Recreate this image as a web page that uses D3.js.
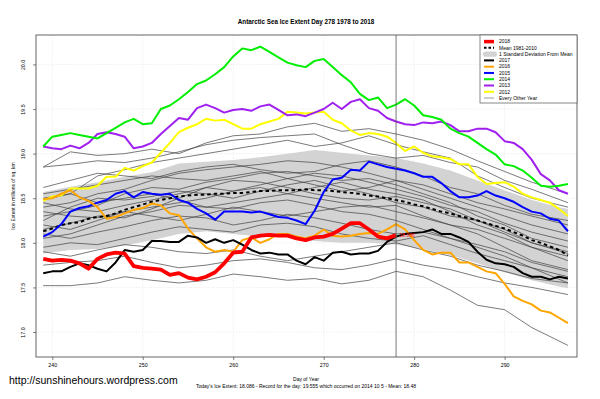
<!DOCTYPE html>
<html>
<head>
<meta charset="utf-8">
<title>Antarctic Sea Ice Extent Day 278</title>
<style>
  body { margin: 0; background: #fff; }
  svg { display: block; font-family: "Liberation Sans", Arial, sans-serif; }
  .axis text { font-size: 5.3px; fill: #000; }
  .axis line { stroke: #333; stroke-width: 0.6; }
</style>
</head>
<body>
<script src="https://cdn.jsdelivr.net/npm/d3@7"></script>
<script>
// day of year, daily values
var days = d3.range(239, 298);

var red2018 = [17.82, 17.80, 17.81, 17.80, 17.77, 17.71, 17.82, 17.87, 17.89, 17.88,
  17.74, 17.72, 17.71, 17.70, 17.64, 17.66, 17.61, 17.59, 17.62, 17.67,
  17.77, 17.89, 17.90, 18.06, 18.08, 18.09, 18.08, 18.08, 18.05,
  18.03, 18.06, 18.07, 18.10, 18.16, 18.22, 18.22, 18.15, 18.07, 18.05, 18.086];

var mean8110 = [18.13, 18.16, 18.20, 18.22, 18.23, 18.27, 18.29, 18.30, 18.33, 18.37,
  18.40, 18.43, 18.46, 18.48, 18.50, 18.52, 18.53, 18.54, 18.54, 18.55,
  18.55, 18.56, 18.56, 18.57, 18.58, 18.58, 18.59, 18.59, 18.59,
  18.60, 18.59, 18.59, 18.58, 18.57, 18.56, 18.55, 18.53, 18.52, 18.50,
  18.48, 18.46, 18.43, 18.41, 18.38, 18.35, 18.33, 18.30, 18.28, 18.25,
  18.22, 18.19, 18.16, 18.12, 18.08, 18.03, 18.00, 17.96, 17.92, 17.86];

var black2017 = [17.66, 17.68, 17.68, 17.73, 17.77, 17.75, 17.71, 17.68, 17.78, 17.92,
  17.90, 17.92, 18.02, 18.02, 18.01, 18.01, 18.08, 18.06, 18.00, 18.04,
  18.00, 18.03, 17.98, 17.92, 17.88, 17.89, 17.87, 17.87, 17.80,
  17.76, 17.84, 17.80, 17.89, 17.90, 17.87, 17.88, 17.88, 17.91, 18.01,
  18.07, 18.10, 18.11, 18.12, 18.15, 18.10, 18.10, 18.06, 18.01, 17.90,
  17.81, 17.77, 17.76, 17.73, 17.66, 17.62, 17.62, 17.59, 17.62, 17.60];

var orange2016 = [18.49, 18.50, 18.55, 18.59, 18.51, 18.47, 18.40, 18.27, 18.29, 18.33,
  18.37, 18.39, 18.44, 18.42, 18.33, 18.31, 18.16, 18.05, 17.95, 17.90,
  17.92, 17.90, 18.03, 18.06, 18.00, 18.04, 18.10, 18.10, 18.07,
  18.05, 18.08, 18.15, 18.08, 18.07, 18.08, 18.10, 18.11, 18.10, 18.15,
  18.21, 18.15, 18.03, 17.92, 17.87, 17.89, 17.89, 17.78, 17.78, 17.73,
  17.68, 17.66, 17.54, 17.40, 17.35, 17.31, 17.24, 17.22, 17.16, 17.10];

var blue2015 = [18.07, 18.12, 18.21, 18.35, 18.39, 18.41, 18.45, 18.48, 18.55, 18.58,
  18.51, 18.57, 18.55, 18.54, 18.55, 18.48, 18.45, 18.38, 18.33, 18.26,
  18.35, 18.35, 18.35, 18.34, 18.35, 18.32, 18.29, 18.28, 18.25, 18.21,
  18.36, 18.57, 18.71, 18.73, 18.82, 18.81, 18.91, 18.88, 18.85, 18.83,
  18.81, 18.78, 18.74, 18.74, 18.67, 18.58, 18.51, 18.51, 18.53, 18.58,
  18.53, 18.50, 18.46, 18.40, 18.35, 18.33, 18.27, 18.25, 18.13];

var green2014 = [19.08, 19.19, 19.21, 19.23, 19.21, 19.19, 19.17, 19.23, 19.29, 19.35,
  19.39, 19.33, 19.34, 19.50, 19.54, 19.61, 19.69, 19.78, 19.82, 19.89,
  19.97, 20.09, 20.18, 20.16, 20.20, 20.14, 20.08, 20.02, 19.99,
  19.97, 20.04, 20.06, 19.97, 19.88, 19.80, 19.67, 19.60, 19.63, 19.51,
  19.55, 19.61, 19.54, 19.43, 19.41, 19.38, 19.28, 19.23, 19.19, 19.12,
  19.05, 18.99, 18.88, 18.86, 18.81, 18.73, 18.64, 18.63, 18.64, 18.66];

var purple2013 = [19.08, 19.06, 19.05, 19.09, 19.06, 19.12, 19.22, 19.24, 19.22, 19.19,
  19.06, 19.08, 19.12, 19.22, 19.31, 19.40, 19.38, 19.51, 19.55, 19.51,
  19.46, 19.49, 19.50, 19.48, 19.53, 19.55, 19.49, 19.43, 19.44,
  19.42, 19.46, 19.50, 19.57, 19.50, 19.58, 19.61, 19.51, 19.48, 19.40,
  19.36, 19.33, 19.32, 19.35, 19.34, 19.36, 19.32, 19.25, 19.25, 19.28,
  19.28, 19.24, 19.14, 19.12, 19.05, 18.93, 18.77, 18.70, 18.59, 18.55];

var yellow2012 = [18.47, 18.52, 18.53, 18.61, 18.61, 18.61, 18.64, 18.74, 18.74, 18.84,
  18.81, 18.86, 18.90, 19.01, 19.12, 19.24, 19.29, 19.33, 19.39, 19.37,
  19.38, 19.33, 19.28, 19.28, 19.33, 19.36, 19.39, 19.47, 19.46,
  19.45, 19.46, 19.47, 19.38, 19.34, 19.26, 19.21, 19.23, 19.22, 19.19,
  19.12, 19.03, 19.08, 19.01, 18.97, 18.96, 18.94, 18.88, 18.88, 18.74,
  18.66, 18.67, 18.68, 18.63, 18.55, 18.51, 18.48, 18.45, 18.38, 18.30];

// 1 standard deviation band, read every third day
var bandDays = [239, 242, 245, 248, 251, 254, 257, 260, 263, 266, 269, 272, 275, 278, 281, 284, 287, 290, 293, 296, 297];
var bandUpper = [18.57, 18.63, 18.68, 18.74, 18.79, 18.89, 18.91, 18.93, 18.96, 19.00, 19.04, 19.01, 18.98, 18.95, 18.89, 18.81, 18.70, 18.59, 18.48, 18.40, 18.38];
var bandLower = [17.88, 17.92, 17.93, 17.97, 18.03, 18.10, 18.13, 18.10, 18.07, 18.07, 18.02, 18.00, 18.00, 17.98, 17.93, 17.86, 17.77, 17.67, 17.58, 17.51, 17.49];

// every other year, read every third day
var grayDays = [239, 242, 245, 248, 251, 254, 257, 260, 263, 266, 269, 272, 275, 278, 281, 284, 287, 290, 293, 297];
var grayYears = [
  [18.85, 19.02, 18.98, 19.00, 19.05, 19.00, 19.12, 19.20, 19.22, 19.30, 19.34, 19.25, 19.28, 19.22, 19.15, 19.05, 18.92, 18.80, 18.68, 18.55],
  [18.85, 18.88, 18.92, 18.90, 18.95, 19.02, 19.10, 19.15, 19.18, 19.20, 19.22, 19.10, 19.00, 18.95, 18.98, 18.90, 18.85, 18.70, 18.60, 18.45],
  [18.48, 18.55, 18.75, 18.82, 18.90, 18.95, 19.00, 19.05, 19.10, 19.15, 19.08, 19.12, 19.20, 19.10, 19.02, 18.95, 18.75, 18.62, 18.50, 18.40],
  [18.40, 18.45, 18.55, 18.60, 18.70, 18.78, 18.82, 18.85, 18.88, 18.92, 18.90, 18.85, 18.78, 18.70, 18.60, 18.50, 18.40, 18.30, 18.20, 18.10],
  [18.30, 18.35, 18.42, 18.55, 18.62, 18.60, 18.68, 18.72, 18.78, 18.80, 18.75, 18.70, 18.72, 18.65, 18.55, 18.45, 18.30, 18.20, 18.05, 17.95],
  [18.25, 18.40, 18.50, 18.48, 18.52, 18.58, 18.55, 18.50, 18.58, 18.65, 18.70, 18.62, 18.55, 18.45, 18.40, 18.30, 18.25, 18.12, 18.00, 17.90],
  [18.50, 18.55, 18.45, 18.50, 18.55, 18.48, 18.40, 18.45, 18.50, 18.55, 18.62, 18.68, 18.60, 18.55, 18.48, 18.35, 18.20, 18.10, 17.95, 17.80],
  [18.20, 18.15, 18.25, 18.35, 18.40, 18.45, 18.50, 18.58, 18.62, 18.55, 18.50, 18.45, 18.40, 18.42, 18.30, 18.20, 18.10, 17.95, 17.80, 17.70],
  [18.05, 18.10, 18.20, 18.30, 18.35, 18.42, 18.40, 18.38, 18.45, 18.48, 18.42, 18.35, 18.32, 18.25, 18.15, 18.05, 17.95, 17.85, 17.72, 17.62],
  [18.35, 18.30, 18.28, 18.35, 18.30, 18.25, 18.32, 18.40, 18.35, 18.30, 18.35, 18.40, 18.42, 18.35, 18.28, 18.20, 18.15, 18.05, 17.95, 17.85],
  [18.10, 18.05, 18.12, 18.18, 18.25, 18.30, 18.28, 18.20, 18.25, 18.32, 18.28, 18.22, 18.15, 18.10, 18.12, 18.05, 17.98, 17.90, 17.78, 17.68],
  [17.95, 18.00, 17.98, 18.05, 18.12, 18.18, 18.15, 18.12, 18.20, 18.22, 18.18, 18.10, 18.05, 18.02, 18.08, 17.98, 17.88, 17.80, 17.72, 17.55],
  [18.55, 18.60, 18.65, 18.70, 18.75, 18.72, 18.70, 18.75, 18.80, 18.72, 18.65, 18.58, 18.62, 18.70, 18.65, 18.55, 18.45, 18.38, 18.30, 18.20],
  [18.62, 18.70, 18.78, 18.75, 18.72, 18.80, 18.85, 18.88, 18.82, 18.78, 18.80, 18.88, 18.92, 18.85, 18.75, 18.62, 18.55, 18.42, 18.32, 18.25],
  [18.15, 18.22, 18.30, 18.28, 18.38, 18.50, 18.62, 18.70, 18.68, 18.62, 18.55, 18.50, 18.48, 18.52, 18.45, 18.38, 18.25, 18.15, 18.00, 17.88],
  [18.45, 18.38, 18.35, 18.42, 18.48, 18.55, 18.62, 18.58, 18.65, 18.72, 18.78, 18.75, 18.68, 18.60, 18.52, 18.42, 18.35, 18.22, 18.12, 18.02],
  [17.90, 17.85, 17.92, 17.98, 17.95, 17.90, 17.88, 17.92, 17.85, 17.80, 17.85, 17.90, 17.95, 18.00, 17.92, 17.85, 17.75, 17.68, 17.60, 17.55],
  [17.75, 17.78, 17.80, 17.85, 17.78, 17.72, 17.75, 17.80, 17.82, 17.78, 17.72, 17.70, 17.75, 17.82, 17.75, 17.70, 17.62, 17.55, 17.50, 17.42],
  [17.52, 17.52, 17.55, 17.62, 17.58, 17.55, 17.58, 17.65, 17.62, 17.58, 17.60, 17.54, 17.58, 17.68, 17.62, 17.47, 17.30, 17.25, 17.05, 16.85]
];

var xTicks = [240, 250, 260, 270, 280, 290];
var yTicks = [17.0, 17.5, 18.0, 18.5, 19.0, 19.5, 20.0];
var today = 278;

var legendLabels = ["2018", "Mean 1981-2010", "1 Standard Deviation From Mean", "2017", "2016",
  "2015", "2014", "2013", "2012", "Every Other Year"];

var W = 600, H = 399;
var pLeft = 36, pRight = 577, pTop = 35, pBottom = 357;

var svg = d3.select("body").append("svg")
    .attr("width", W)
    .attr("height", H);

var x = d3.scaleLinear().domain([238.2, 298]).range([pLeft, pRight]);
var y = d3.scaleLinear().domain([16.72, 20.33]).range([pBottom, pTop]);

svg.append("clipPath").attr("id", "plot")
    .append("rect")
    .attr("x", pLeft).attr("y", pTop)
    .attr("width", pRight - pLeft).attr("height", pBottom - pTop);

// grid
svg.append("g").selectAll("line").data(xTicks).enter().append("line")
    .attr("x1", function (d) { return x(d); }).attr("x2", function (d) { return x(d); })
    .attr("y1", pTop).attr("y2", pBottom)
    .attr("stroke", "#dcdcdc").attr("stroke-width", 0.6).attr("stroke-dasharray", "1,1.5");
svg.append("g").selectAll("line").data(yTicks).enter().append("line")
    .attr("y1", function (d) { return y(d); }).attr("y2", function (d) { return y(d); })
    .attr("x1", pLeft).attr("x2", pRight)
    .attr("stroke", "#dcdcdc").attr("stroke-width", 0.6).attr("stroke-dasharray", "1,1.5");

var plot = svg.append("g").attr("clip-path", "url(#plot)");

// SD band
var band = d3.area()
    .x(function (d, i) { return x(bandDays[i]); })
    .y0(function (d, i) { return y(bandLower[i]); })
    .y1(function (d, i) { return y(bandUpper[i]); });
plot.append("path").datum(bandDays)
    .attr("d", band)
    .attr("fill", "#d3d3d3");

// every other year
var grayLine = d3.line()
    .x(function (d, i) { return x(grayDays[i]); })
    .y(function (d) { return y(d); });
plot.append("g").selectAll("path").data(grayYears).enter().append("path")
    .attr("d", grayLine)
    .attr("fill", "none")
    .attr("stroke", "#404040")
    .attr("stroke-width", 0.7);

var line = d3.line()
    .x(function (d, i) { return x(days[i]); })
    .y(function (d) { return y(d); });

// vertical line at today
svg.append("line")
    .attr("x1", x(today)).attr("x2", x(today))
    .attr("y1", pTop).attr("y2", pBottom)
    .attr("stroke", "#555").attr("stroke-width", 0.8);

plot.append("path").datum(mean8110)
    .attr("d", line).attr("fill", "none")
    .attr("stroke", "#000").attr("stroke-width", 2)
    .attr("stroke-dasharray", "3.5,3");

var series = [
  { v: yellow2012, c: "#ffff00", w: 2 },
  { v: purple2013, c: "#a020f0", w: 2 },
  { v: green2014, c: "#00ee00", w: 2 },
  { v: blue2015, c: "#0000ff", w: 2 },
  { v: orange2016, c: "#ffa500", w: 2 },
  { v: black2017, c: "#000000", w: 2 },
  { v: red2018, c: "#ff0000", w: 3.8 }
];
plot.append("g").selectAll("path").data(series).enter().append("path")
    .attr("d", function (d) { return line(d.v); })
    .attr("fill", "none")
    .attr("stroke", function (d) { return d.c; })
    .attr("stroke-width", function (d) { return d.w; })
    .attr("stroke-linejoin", "round");

svg.append("text")
    .attr("x", x(today) + 3.5)
    .attr("y", y(red2018[red2018.length - 1]))
    .attr("dy", "0.35em")
    .attr("font-size", "5px")
    .attr("fill", "#ff0000")
    .text(red2018[red2018.length - 1].toFixed(3));

// frame
svg.append("rect")
    .attr("x", pLeft).attr("y", pTop)
    .attr("width", pRight - pLeft).attr("height", pBottom - pTop)
    .attr("fill", "none").attr("stroke", "#555").attr("stroke-width", 0.9);

// axes
var xAxis = svg.append("g").attr("class", "axis")
    .attr("transform", "translate(0," + pBottom + ")")
    .call(d3.axisBottom(x).tickValues(xTicks).tickSize(3).tickSizeOuter(0).tickFormat(d3.format("d")));
xAxis.select(".domain").remove();
xAxis.selectAll("text").attr("y", 6);

var yAxis = svg.append("g").attr("class", "axis")
    .attr("transform", "translate(" + pLeft + ",0)")
    .call(d3.axisLeft(y).tickValues(yTicks).tickSize(3).tickSizeOuter(0).tickFormat(d3.format(".1f")));
yAxis.select(".domain").remove();
yAxis.selectAll("text")
    .attr("transform", "rotate(-90)")
    .attr("x", 0).attr("y", -11.5).attr("dy", 0)
    .style("text-anchor", "middle");

// titles
svg.append("text")
    .attr("x", 306).attr("y", 24)
    .attr("text-anchor", "middle")
    .attr("font-size", "6.3px").attr("font-weight", "bold")
    .text("Antarctic Sea Ice Extent Day 278 1978 to 2018");

svg.append("text")
    .attr("transform", "translate(15," + (pTop + pBottom) / 2 + ") rotate(-90)")
    .attr("text-anchor", "middle")
    .attr("font-size", "5px")
    .text("Ice Extent in millions of sq. km");

svg.append("text")
    .attr("x", 306).attr("y", 381)
    .attr("text-anchor", "middle")
    .attr("font-size", "5px")
    .text("Day of Year");

svg.append("text")
    .attr("x", 306).attr("y", 388)
    .attr("text-anchor", "middle")
    .attr("font-size", "5px")
    .text("Today's Ice Extent: 18.086  - Record for the day: 19.555 which occurred on 2014 10 5  - Mean: 18.48");

svg.append("text")
    .attr("x", 9).attr("y", 384)
    .attr("font-size", "10.5px")
    .text("http://sunshinehours.wordpress.com");

// legend
var legendStyle = [
  { c: "#ff0000", w: 3.5 },
  { c: "#000", w: 2, dash: "2.5,2" },
  { box: true },
  { c: "#000", w: 2 },
  { c: "#ffa500", w: 2 },
  { c: "#0000ff", w: 2 },
  { c: "#00ee00", w: 2 },
  { c: "#a020f0", w: 2 },
  { c: "#ffff00", w: 2 },
  { c: "#555", w: 0.6 }
];
var lg = svg.append("g");
lg.append("rect")
    .attr("x", 480).attr("y", pTop)
    .attr("width", pRight - 480).attr("height", 68)
    .attr("fill", "#fff").attr("stroke", "#555").attr("stroke-width", 0.7);
var rows = lg.selectAll("g").data(legendLabels).enter().append("g")
    .attr("transform", function (d, i) { return "translate(0," + (41.6 + i * 6.27) + ")"; });
rows.each(function (d, i) {
  var g = d3.select(this), s = legendStyle[i];
  if (s.box) {
    g.append("rect").attr("x", 483).attr("y", -2.6).attr("width", 14).attr("height", 5.2)
      .attr("rx", 2.6).attr("fill", "#d3d3d3");
  } else {
    g.append("line").attr("x1", 484).attr("x2", 494).attr("y1", 0).attr("y2", 0)
      .attr("stroke", s.c).attr("stroke-width", s.w)
      .attr("stroke-dasharray", s.dash || null);
  }
});
rows.append("text")
    .attr("x", 499).attr("y", 0).attr("dy", "0.35em")
    .attr("font-size", "5px")
    .text(function (d) { return d; });
</script>
</body>
</html>
